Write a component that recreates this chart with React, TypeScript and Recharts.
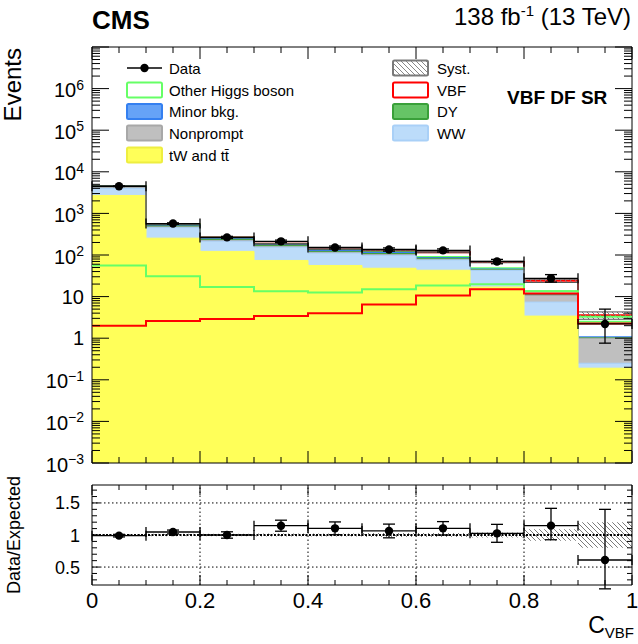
import React from "react";
import {
  ComposedChart,
  Area,
  Line,
  Scatter,
  XAxis,
  YAxis,
  ErrorBar,
  ReferenceLine,
  ReferenceArea,
} from "recharts";

const FONT = "'Liberation Sans', Arial, Helvetica, sans-serif";

// ---------- binning ----------
const BIN_EDGES = [0, 0.1, 0.2, 0.3, 0.4, 0.5, 0.6, 0.7, 0.8, 0.9, 1.0];
const BIN_CENTERS = [0.05, 0.15, 0.25, 0.35, 0.45, 0.55, 0.65, 0.75, 0.85, 0.95];
const BIN_HALF_WIDTH = [0.05, 0.05, 0.05, 0.05, 0.05, 0.05, 0.05, 0.05, 0.05, 0.05];

// ---------- stacked processes (events per bin) ----------
const TT_TW = [2700, 254, 122, 74, 56, 48, 43, 17, 3.4, 0.19];
const WW = [1300, 200, 93, 80, 55, 50, 33, 25.5, 4.0, 0.06];
const NONPROMPT = [180, 20, 10, 7, 5, 5, 3, 1, 3.3, 0.75];
const DY = [120, 22, 12, 8, 5, 5, 4, 0.8, 0.3, 0.02];
const MINOR_BKG = [150, 25, 12, 8, 6, 5, 3, 1, 0.3, 0.05];
const OTHER_HIGGS = [60, 20, 12, 5, 5, 5, 4, 2.5, 2.1, 1.4];
const VBF = [2, 3, 3.5, 4, 6, 10, 27, 20, 10.6, 1.1];

// ---------- superimposed (unstacked) signal lines ----------
const OTHER_HIGGS_LINE = [56, 31, 17, 13.5, 12.6, 15, 18.6, 19.7, 13.4, 3.3];
const VBF_LINE = [2.0, 2.6, 2.9, 3.4, 4.0, 6.5, 10.7, 15, 11.8, 2.25];

// ---------- data ----------
const DATA = [4500, 570, 265, 213, 152, 136, 129, 70, 27.5, 2.2];
const DATA_ERR_LO = [67, 24, 16, 15, 12, 12, 11, 8.4, 5.2, 1.44];
const DATA_ERR_HI = [67, 24, 16, 15, 12, 12, 11, 8.4, 6.3, 2.8];

// ---------- ratio panel ----------
const RATIO = [0.99, 1.047, 1.0, 1.145, 1.104, 1.063, 1.104, 1.026, 1.146, 0.61];
const RATIO_ERR_LO = [0.02, 0.03, 0.05, 0.086, 0.1, 0.107, 0.105, 0.14, 0.22, 0.45];
const RATIO_ERR_HI = [0.02, 0.03, 0.05, 0.086, 0.1, 0.107, 0.105, 0.14, 0.27, 0.79];
const SYST_REL = [0.015, 0.02, 0.02, 0.025, 0.025, 0.03, 0.03, 0.04, 0.09, 0.2];

// ---------- ticks ----------
const X_TICKS = [0, 0.05, 0.1, 0.15, 0.2, 0.25, 0.3, 0.35, 0.4, 0.45, 0.5, 0.55, 0.6, 0.65, 0.7, 0.75, 0.8, 0.85, 0.9, 0.95, 1];
const X_MAJOR_TICKS = [0, 0.2, 0.4, 0.6, 0.8, 1];
const X_TICK_LABELS = ["0", "0.2", "0.4", "0.6", "0.8", "1"];
const X_GRID = [0.2, 0.4, 0.6, 0.8];

const MAIN_Y_DOMAIN = [1e-3, 1e7];
const MAIN_Y_DECADES = [1e-3, 1e-2, 1e-1, 1, 10, 1e2, 1e3, 1e4, 1e5, 1e6, 1e7];
const MAIN_Y_LABEL_BASE = ["10", "10", "10", "1", "10", "10", "10", "10", "10", "10", ""];
const MAIN_Y_LABEL_EXP = ["\u22123", "\u22122", "\u22121", "", "", "2", "3", "4", "5", "6", ""];
const LOG_MINOR_MULT = [2, 3, 4, 5, 6, 7, 8, 9];
const MAIN_Y_TICKS = MAIN_Y_DECADES.flatMap((d) =>
  d < 1e7 ? [d, ...LOG_MINOR_MULT.map((m) => m * d)] : [d]
);

const RATIO_Y_DOMAIN = [0.22, 1.78];
const RATIO_Y_MAJOR = [0.5, 1, 1.5];
const RATIO_Y_LABELS = ["0.5", "1", "1.5"];
const RATIO_Y_TICKS = [0.3, 0.4, 0.5, 0.6, 0.7, 0.8, 0.9, 1, 1.1, 1.2, 1.3, 1.4, 1.5, 1.6, 1.7];

// ---------- layout ----------
const W = 638;
const H = 644;
const PLOT_LEFT = 92;
const PLOT_RIGHT = 632;
const MAIN_TOP = 47;
const MAIN_BOTTOM = 463;
const MAIN_XAXIS_H = 17;
const RATIO_TOP = 485;
const RATIO_BOTTOM = 585;

// ---------- colours ----------
const C_TT = "#ffff59";
const C_WW = "#bcdcfa";
const C_WW_LINE = "#a9d0f7";
const C_NP = "#bfbfbf";
const C_NP_LINE = "#a8a8a8";
const C_DY = "#66c466";
const C_DY_LINE = "#3aa03a";
const C_MINOR = "#66a3f7";
const C_MINOR_LINE = "#3580f0";
const C_OH = "#66ff66";
const C_VBF = "#ff0000";

// ---------- derived tables ----------
const histRows = BIN_EDGES.map((x, i) => {
  const b = Math.min(i, BIN_CENTERS.length - 1);
  const tt = TT_TW[b];
  const ww = tt + WW[b];
  const np = ww + NONPROMPT[b];
  const dy = np + DY[b];
  const minor = dy + MINOR_BKG[b];
  const oh = minor + OTHER_HIGGS[b];
  const total = oh + VBF[b];
  return {
    x,
    tt,
    ww,
    np,
    dy,
    minor,
    oh,
    total,
    ohLine: OTHER_HIGGS_LINE[b],
    vbfLine: VBF_LINE[b],
    syst: [total * (1 - SYST_REL[b]), total * (1 + SYST_REL[b])],
  };
});

const dataPoints = BIN_CENTERS.map((x, i) => ({
  x,
  y: DATA[i],
  ey: [DATA_ERR_LO[i], DATA_ERR_HI[i]],
  ex: BIN_HALF_WIDTH[i],
}));

const ratioRows = BIN_EDGES.map((x, i) => {
  const b = Math.min(i, BIN_CENTERS.length - 1);
  return { x, band: [1 - SYST_REL[b], 1 + SYST_REL[b]] };
});

const ratioPoints = BIN_CENTERS.map((x, i) => ({
  x,
  r: RATIO[i],
  ey: [RATIO_ERR_LO[i], RATIO_ERR_HI[i]],
  ex: BIN_HALF_WIDTH[i],
}));

const near = (a: number, b: number) => Math.abs(a - b) < 1e-6;

// ---------- custom ticks ----------
function MainXTick(props: any) {
  const { x, payload } = props;
  const major = X_MAJOR_TICKS.some((m) => near(m, payload.value));
  const len = major ? 12 : 6;
  return (
    <g>
      <line x1={x} x2={x} y1={MAIN_BOTTOM} y2={MAIN_BOTTOM - len} stroke="#000" strokeWidth={1} />
      <line x1={x} x2={x} y1={MAIN_TOP} y2={MAIN_TOP + len} stroke="#000" strokeWidth={1} />
    </g>
  );
}

function MainYTick(props: any) {
  const { y, payload } = props;
  const v = payload.value;
  const idx = MAIN_Y_DECADES.findIndex((d) => near(Math.log10(d), Math.log10(v)));
  const major = idx >= 0;
  const len = major ? 17 : 8;
  const base = major ? MAIN_Y_LABEL_BASE[idx] : "";
  const exp = major ? MAIN_Y_LABEL_EXP[idx] : "";
  return (
    <g>
      <line x1={PLOT_LEFT} x2={PLOT_LEFT + len} y1={y} y2={y} stroke="#000" strokeWidth={1} />
      <line x1={PLOT_RIGHT} x2={PLOT_RIGHT - len} y1={y} y2={y} stroke="#000" strokeWidth={1} />
      {base && (
        <text
          x={PLOT_LEFT - 8}
          y={y + (exp ? 8.5 : 7)}
          textAnchor="end"
          fontFamily={FONT}
          fontSize={20}
          fill="#000"
        >
          {base}
          {exp && (
            <tspan dy={-7.5} fontSize={14}>
              {exp}
            </tspan>
          )}
        </text>
      )}
    </g>
  );
}

function RatioXTick(props: any) {
  const { x, payload } = props;
  const mi = X_MAJOR_TICKS.findIndex((m) => near(m, payload.value));
  const len = mi >= 0 ? 10 : 5;
  return (
    <g>
      <line x1={x} x2={x} y1={RATIO_BOTTOM} y2={RATIO_BOTTOM - len} stroke="#000" strokeWidth={1} />
      <line x1={x} x2={x} y1={RATIO_TOP} y2={RATIO_TOP + len} stroke="#000" strokeWidth={1} />
      {mi >= 0 && (
        <text x={x} y={RATIO_BOTTOM + 23} textAnchor="middle" fontFamily={FONT} fontSize={22} fill="#000">
          {X_TICK_LABELS[mi]}
        </text>
      )}
    </g>
  );
}

function RatioYTick(props: any) {
  const { y, payload } = props;
  const mi = RATIO_Y_MAJOR.findIndex((m) => near(m, payload.value));
  const len = mi >= 0 ? 8 : 5;
  return (
    <g>
      <line x1={PLOT_LEFT} x2={PLOT_LEFT + len} y1={y} y2={y} stroke="#000" strokeWidth={1} />
      <line x1={PLOT_RIGHT} x2={PLOT_RIGHT - len} y1={y} y2={y} stroke="#000" strokeWidth={1} />
      {mi >= 0 && (
        <text x={PLOT_LEFT - 12} y={y + 6.5} textAnchor="end" fontFamily={FONT} fontSize={18} fill="#000">
          {RATIO_Y_LABELS[mi]}
        </text>
      )}
    </g>
  );
}

const DataDot = (p: any) =>
  p.cx == null || p.cy == null ? <g /> : <circle cx={p.cx} cy={p.cy} r={4.2} fill="#000" />;

// ---------- legend ----------
const LEGEND_LEFT = [
  { label: "Data", kind: "data" },
  { label: "Other Higgs boson", kind: "box", fill: "#fff", stroke: C_OH },
  { label: "Minor bkg.", kind: "box", fill: C_MINOR, stroke: C_MINOR_LINE },
  { label: "Nonprompt", kind: "box", fill: C_NP, stroke: C_NP_LINE },
  { label: "tW and tt", kind: "box", fill: C_TT, stroke: "#eeee40" },
];
const LEGEND_RIGHT = [
  { label: "Syst.", kind: "box", fill: "url(#hatchLegend)", stroke: "#7a7a7a" },
  { label: "VBF", kind: "box", fill: "#fff", stroke: C_VBF },
  { label: "DY", kind: "box", fill: C_DY, stroke: C_DY_LINE },
  { label: "WW", kind: "box", fill: C_WW, stroke: C_WW_LINE },
];
const LEGEND_ROWS_Y = [68, 90, 111.5, 133, 155];

function LegendColumn({ items, boxX, textX }: { items: any[]; boxX: number; textX: number }) {
  return (
    <g>
      {items.map((it, i) => {
        const cy = LEGEND_ROWS_Y[i];
        return (
          <g key={it.label}>
            {it.kind === "data" ? (
              <g>
                <line x1={boxX} x2={boxX + 35} y1={cy} y2={cy} stroke="#000" strokeWidth={1.3} />
                <circle cx={boxX + 17.5} cy={cy} r={4.2} fill="#000" />
              </g>
            ) : (
              <rect
                x={boxX}
                y={cy - 7.5}
                width={35}
                height={15}
                rx={1.5}
                fill={it.fill}
                stroke={it.stroke}
                strokeWidth={2}
              />
            )}
            <text x={textX} y={cy + 5.5} fontFamily={FONT} fontSize={15} fill="#000">
              {it.label === "tW and tt" ? "tW and t\u0074\u0304" : it.label}
            </text>
          </g>
        );
      })}
    </g>
  );
}

export default function App() {
  return (
    <div style={{ position: "relative", width: W, height: H, background: "#fff", overflow: "hidden" }}>
      <style>{`body{margin:0;}`}</style>
      <svg width={0} height={0} style={{ position: "absolute" }}>
        <defs>
          <pattern id="hatch" patternUnits="userSpaceOnUse" width="5" height="5">
            <path d="M-1,-1 L6,6 M-1,4 L1,6 M4,-1 L6,1" stroke="#7a7a7a" strokeWidth="1" />
          </pattern>
          <pattern id="hatchLegend" patternUnits="userSpaceOnUse" width="5" height="5">
            <path d="M-1,-1 L6,6 M-1,4 L1,6 M4,-1 L6,1" stroke="#888" strokeWidth="1" />
          </pattern>
        </defs>
      </svg>

      {/* ---------------- main panel ---------------- */}
      <div style={{ position: "absolute", left: 0, top: 0 }}>
        <ComposedChart
          width={W}
          height={MAIN_BOTTOM + MAIN_XAXIS_H}
          data={histRows}
          margin={{ top: MAIN_TOP, right: W - PLOT_RIGHT, left: 0, bottom: 0 }}
        >
          <Area dataKey="total" type="stepAfter" baseValue={MAIN_Y_DOMAIN[0]} fill="#fff" fillOpacity={1} stroke={C_VBF} strokeWidth={2} isAnimationActive={false} dot={false} activeDot={false} />
          <Area dataKey="oh" type="stepAfter" baseValue={MAIN_Y_DOMAIN[0]} fill="#fff" fillOpacity={1} stroke={C_OH} strokeWidth={2} isAnimationActive={false} dot={false} activeDot={false} />
          <Area dataKey="minor" type="stepAfter" baseValue={MAIN_Y_DOMAIN[0]} fill={C_MINOR} fillOpacity={1} stroke={C_MINOR_LINE} strokeWidth={1.5} isAnimationActive={false} dot={false} activeDot={false} />
          <Area dataKey="dy" type="stepAfter" baseValue={MAIN_Y_DOMAIN[0]} fill={C_DY} fillOpacity={1} stroke={C_DY_LINE} strokeWidth={1.2} isAnimationActive={false} dot={false} activeDot={false} />
          <Area dataKey="np" type="stepAfter" baseValue={MAIN_Y_DOMAIN[0]} fill={C_NP} fillOpacity={1} stroke={C_NP_LINE} strokeWidth={1} isAnimationActive={false} dot={false} activeDot={false} />
          <Area dataKey="ww" type="stepAfter" baseValue={MAIN_Y_DOMAIN[0]} fill={C_WW} fillOpacity={1} stroke={C_WW_LINE} strokeWidth={1} isAnimationActive={false} dot={false} activeDot={false} />
          <Area dataKey="tt" type="stepAfter" baseValue={MAIN_Y_DOMAIN[0]} fill={C_TT} fillOpacity={1} stroke={C_TT} strokeWidth={1} isAnimationActive={false} dot={false} activeDot={false} />
          <Line dataKey="ohLine" type="stepAfter" stroke={C_OH} strokeWidth={2} dot={false} activeDot={false} isAnimationActive={false} />
          <Line dataKey="vbfLine" type="stepAfter" stroke={C_VBF} strokeWidth={2} dot={false} activeDot={false} isAnimationActive={false} />
          <Area dataKey="syst" type="stepAfter" fill="url(#hatch)" fillOpacity={1} stroke="#555" strokeWidth={1} isAnimationActive={false} dot={false} activeDot={false} />
          <Scatter data={dataPoints} dataKey="y" shape={DataDot} isAnimationActive={false}>
            <ErrorBar dataKey="ey" direction="y" width={6} stroke="#000" strokeWidth={1.3} />
            <ErrorBar dataKey="ex" direction="x" width={5} stroke="#000" strokeWidth={1.3} />
          </Scatter>
          <XAxis
            dataKey="x"
            type="number"
            domain={[0, 1]}
            allowDataOverflow
            ticks={X_TICKS}
            interval={0}
            tick={(p: any) => <MainXTick {...p} />}
            tickLine={false}
            axisLine={false}
            height={MAIN_XAXIS_H}
          />
          <YAxis
            scale="log"
            type="number"
            domain={MAIN_Y_DOMAIN}
            allowDataOverflow
            ticks={MAIN_Y_TICKS}
            interval={0}
            tick={(p: any) => <MainYTick {...p} />}
            tickLine={false}
            axisLine={false}
            width={PLOT_LEFT}
          />
          <ReferenceArea x1={0} x2={1} y1={MAIN_Y_DOMAIN[0]} y2={MAIN_Y_DOMAIN[1]} fill="none" fillOpacity={0} stroke="#000" strokeWidth={1} ifOverflow="visible" />
        </ComposedChart>
      </div>

      {/* ---------------- ratio panel ---------------- */}
      <div style={{ position: "absolute", left: 0, top: 0 }}>
        <ComposedChart
          width={W}
          height={H}
          data={ratioRows}
          margin={{ top: RATIO_TOP, right: W - PLOT_RIGHT, left: 0, bottom: H - RATIO_BOTTOM - 30 }}
        >
          {X_GRID.map((g) => (
            <ReferenceLine key={"gx" + g} x={g} stroke="#000" strokeWidth={1} strokeDasharray="1.5 2.5" />
          ))}
          {RATIO_Y_MAJOR.filter((v) => v !== 1).map((g) => (
            <ReferenceLine key={"gy" + g} y={g} stroke="#000" strokeWidth={1} strokeDasharray="1.5 2.5" />
          ))}
          <Area dataKey="band" type="stepAfter" fill="url(#hatch)" fillOpacity={1} stroke="none" isAnimationActive={false} dot={false} activeDot={false} />
          <ReferenceLine y={1} stroke="#000" strokeWidth={2} strokeDasharray="2 1.5" />
          <Scatter data={ratioPoints} dataKey="r" shape={DataDot} isAnimationActive={false}>
            <ErrorBar dataKey="ey" direction="y" width={6} stroke="#000" strokeWidth={1.3} />
            <ErrorBar dataKey="ex" direction="x" width={5} stroke="#000" strokeWidth={1.3} />
          </Scatter>
          <XAxis
            dataKey="x"
            type="number"
            domain={[0, 1]}
            allowDataOverflow
            ticks={X_TICKS}
            interval={0}
            tick={(p: any) => <RatioXTick {...p} />}
            tickLine={false}
            axisLine={false}
            height={30}
          />
          <YAxis
            type="number"
            domain={RATIO_Y_DOMAIN}
            allowDataOverflow
            ticks={RATIO_Y_TICKS}
            interval={0}
            tick={(p: any) => <RatioYTick {...p} />}
            tickLine={false}
            axisLine={false}
            width={PLOT_LEFT}
          />
          <ReferenceArea x1={0} x2={1} y1={RATIO_Y_DOMAIN[0]} y2={RATIO_Y_DOMAIN[1]} fill="none" fillOpacity={0} stroke="#000" strokeWidth={1} ifOverflow="visible" />
        </ComposedChart>
      </div>

      {/* ---------------- labels & legend ---------------- */}
      <svg width={W} height={H} style={{ position: "absolute", left: 0, top: 0, pointerEvents: "none" }}>
        <text x={92} y={29} fontFamily={FONT} fontWeight="bold" fontSize={26} fill="#000">
          CMS
        </text>
        <text x={631} y={25} textAnchor="end" fontFamily={FONT} fontSize={24} fill="#000">
          138 fb
          <tspan dy={-9} fontSize={15}>
            -1
          </tspan>
          <tspan dy={9}> (13 TeV)</tspan>
        </text>
        <text
          x={21}
          y={48}
          transform="rotate(-90 21 48)"
          textAnchor="end"
          fontFamily={FONT}
          fontSize={24}
          fill="#000"
        >
          Events
        </text>
        <text
          x={20}
          y={535}
          transform="rotate(-90 20 535)"
          textAnchor="middle"
          fontFamily={FONT}
          fontSize={18}
          fill="#000"
        >
          Data/Expected
        </text>
        <text x={634} y={633} textAnchor="end" fontFamily={FONT} fontSize={23} fill="#000">
          C
          <tspan dy={5} fontSize={15}>
            VBF
          </tspan>
        </text>
        <text x={507} y={104} fontFamily={FONT} fontWeight="bold" fontSize={19} fill="#000">
          VBF DF SR
        </text>
        <LegendColumn items={LEGEND_LEFT} boxX={127} textX={169} />
        <LegendColumn items={LEGEND_RIGHT} boxX={393} textX={437} />
      </svg>
    </div>
  );
}
